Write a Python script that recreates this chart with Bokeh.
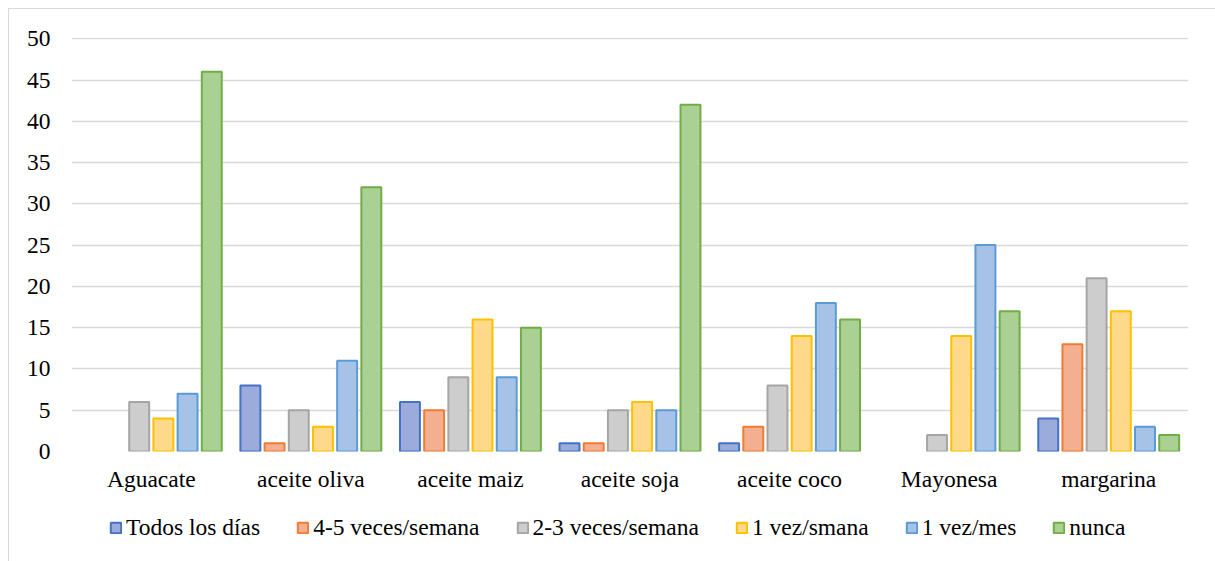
from bokeh.plotting import figure
from bokeh.layouts import column
from bokeh.models import ColumnDataSource, Legend, LegendItem, FactorRange, Range1d
from bokeh.transform import dodge
from bokeh.embed import file_html
from bokeh.resources import INLINE

categories = ["Aguacate", "aceite oliva", "aceite maiz", "aceite soja", "aceite coco", "Mayonesa", "margarina"]
series_names = ["Todos los días", "4-5 veces/semana", "2-3 veces/semana", "1 vez/smana", "1 vez/mes", "nunca"]
todos = [0, 8, 6, 1, 1, 0, 4]
cuatro_cinco = [0, 1, 5, 1, 3, 0, 13]
dos_tres = [6, 5, 9, 5, 8, 2, 21]
una_semana = [4, 3, 16, 6, 14, 14, 17]
una_mes = [7, 11, 9, 5, 18, 25, 3]
nunca = [46, 32, 15, 42, 16, 17, 2]
y_ticks = [0, 5, 10, 15, 20, 25, 30, 35, 40, 45, 50]

series_values = [todos, cuatro_cinco, dos_tres, una_semana, una_mes, nunca]
fills = ["#9AABDC", "#F4AE90", "#CDCDCD", "#FFD98A", "#A6C3E7", "#ABD093"]
lines = ["#4472C4", "#ED7D31", "#A5A5A5", "#FFC000", "#5B9BD5", "#70AD47"]

FONT = "Liberation Serif"
FS = "23.5px"
BORDER = "1px solid #d9d9d9"

p = figure(x_range=FactorRange(*categories), y_range=Range1d(0, 50.15),
           width=1207, height=500, output_backend="svg", toolbar_location=None,
           min_border_left=62, min_border_right=28, min_border_top=28, min_border_bottom=58)
p.outline_line_color = None
p.background_fill_color = "white"
p.border_fill_color = "white"
p.styles = {"margin-left": "8px", "margin-top": "8px",
            "border-left": BORDER, "border-top": BORDER}

p.xgrid.grid_line_color = None
p.ygrid.grid_line_color = "#d9d9d9"
p.ygrid.grid_line_width = 1.5
p.yaxis.ticker = y_ticks

for ax in (p.xaxis, p.yaxis):
    ax.axis_line_color = None
    ax.major_tick_line_color = None
    ax.minor_tick_line_color = None
    ax.major_tick_out = 0
    ax.major_tick_in = 0
    ax.major_label_text_font = FONT
    ax.major_label_text_font_size = FS
    ax.major_label_text_color = "#000000"
p.yaxis.major_label_standoff = 21
p.xaxis.major_label_standoff = 14

# legend strip below the chart (hidden proxy renderers supply the legend glyphs)
lp = figure(width=1207, height=53, output_backend="svg", toolbar_location=None,
            x_range=p.x_range, y_range=Range1d(100, 101), x_axis_type=None, y_axis_type=None,
            min_border_left=62, min_border_right=28, min_border_top=0, min_border_bottom=0)
lp.outline_line_color = None
lp.grid.visible = False
lp.styles = {"margin-left": "8px", "border-left": BORDER}

spacing = 0.1516
width = 0.125
items = []
for i, (name, vals) in enumerate(zip(series_names, series_values)):
    xs = [c for c, v in zip(categories, vals) if v > 0]
    ys = [v for v in vals if v > 0]
    src = ColumnDataSource(data=dict(cat=xs, val=ys))
    kw = dict(x=dodge("cat", (i - 2.5) * spacing, range=p.x_range), top="val", bottom=0,
              width=width, source=src, fill_color=fills[i], line_color=lines[i], line_width=2)
    p.vbar(**kw)
    r = lp.vbar(visible=False, **kw)
    items.append(LegendItem(label=name, renderers=[r]))

legend = Legend(items=items, orientation="horizontal", location=(38, 20),
                label_text_font=FONT, label_text_font_size=FS, label_text_color="#000000",
                glyph_width=13, glyph_height=13, label_standoff=4, spacing=36,
                inactive_fill_alpha=0,
                border_line_color=None, background_fill_alpha=0, padding=0, margin=0)
lp.add_layout(legend, "center")

layout = column(p, lp, spacing=0)
open("out.html", "w").write(file_html(layout, INLINE))
